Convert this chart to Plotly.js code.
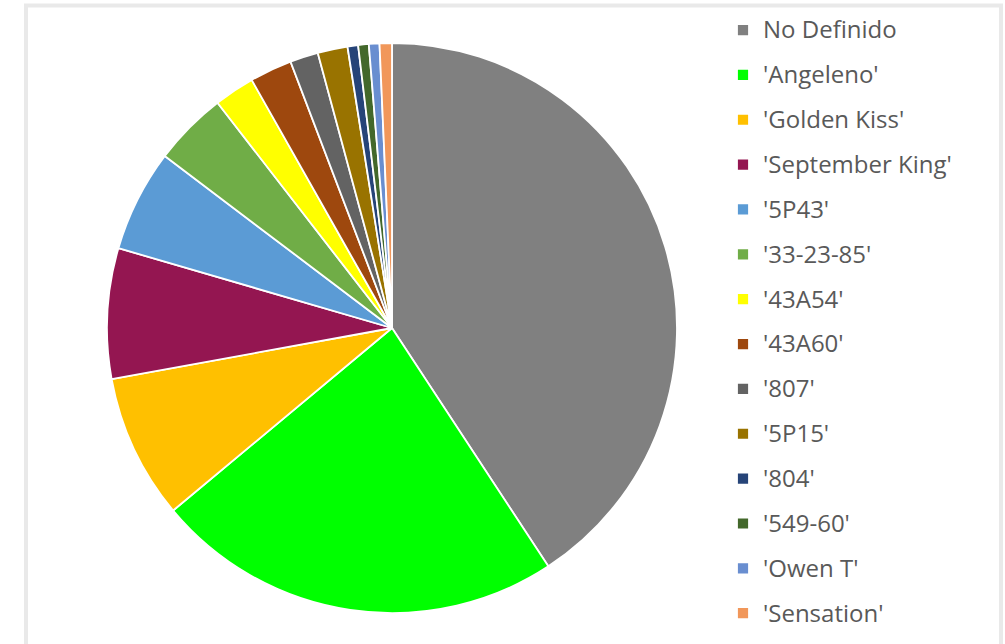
<!DOCTYPE html>
<html>
<head>
<meta charset="utf-8">
<script src="https://cdn.plot.ly/plotly-3.0.1.min.js"></script>
<style>
  html, body { margin: 0; padding: 0; background: #ffffff; }
  #chart { width: 1005px; height: 644px; }
</style>
</head>
<body>
<div id="chart"></div>
<script>
// Categories (varieties) and their shares (%)
const categories = ["No Definido", "'Angeleno'", "'Golden Kiss'", "'September King'", "'5P43'",
  "'33-23-85'", "'43A54'", "'43A60'", "'807'", "'5P15'", "'804'", "'549-60'", "'Owen T'", "'Sensation'"];
const shares = [40.8, 23.2, 8.2, 7.4, 5.8, 4.2, 2.3, 2.4, 1.6, 1.7, 0.6, 0.6, 0.6, 0.7];
const sliceColors = ["#808080", "#00ff00", "#ffc000", "#941651", "#5b9bd5", "#70ad47", "#ffff00",
  "#9e480e", "#636363", "#997300", "#264478", "#43682b", "#698ed0", "#f1975a"];

// Legend labels: padded with empty lines so rows are spaced like the reference
const legendLabels = categories.map(c =>
  '<br><br><span style="font-size:24px">' + c + '</span><br>');

const W = 1005, H = 644;
const cx = 392, cy = 328, R = 285;

const trace = {
  type: 'pie',
  labels: legendLabels,
  values: shares,
  sort: false,
  direction: 'clockwise',
  rotation: 0,
  textinfo: 'none',
  hoverinfo: 'percent',
  marker: { colors: sliceColors, line: { color: '#ffffff', width: 1.8 } },
  domain: { x: [(cx - R) / W, (cx + R) / W], y: [(H - (cy + R)) / H, (H - (cy - R)) / H] }
};

const layout = {
  width: W, height: H,
  margin: { l: 0, r: 0, t: 0, b: 0 },
  paper_bgcolor: '#ffffff',
  showlegend: true,
  font: { family: '"Open Sans", "Noto Sans", sans-serif', color: '#595959' },
  legend: {
    x: 723 / W, xanchor: 'left',
    y: 1 - 2.6 / H, yanchor: 'top',
    font: { size: 8.05, color: '#595959', family: '"Open Sans", "Noto Sans", sans-serif' },
    bgcolor: 'rgba(0,0,0,0)',
    traceorder: 'normal'
  },
  shapes: [{
    type: 'rect', xref: 'paper', yref: 'paper', layer: 'below',
    x0: 26 / W, x1: 1001 / W, y0: -0.05, y1: 1 - 5.5 / H,
    line: { color: '#e9e9e9', width: 4 }, fillcolor: 'rgba(0,0,0,0)'
  }]
};

Plotly.newPlot('chart', [trace], layout, { displayModeBar: false, staticPlot: true });
</script>
</body>
</html>
